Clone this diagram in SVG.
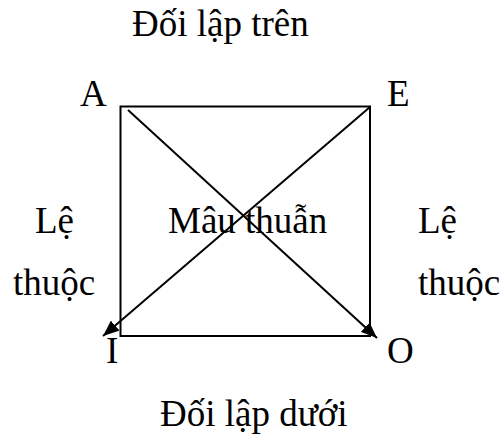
<svg xmlns="http://www.w3.org/2000/svg" width="501" height="436" viewBox="0 0 501 436">
<style>
text{font-family:"Liberation Serif","Times New Roman",serif;font-size:37px;fill:#000}
.ln{stroke:#000;stroke-width:2;fill:none}
</style>
<defs>
<marker id="ah" markerUnits="userSpaceOnUse" markerWidth="17" markerHeight="13" refX="16" refY="6.5" orient="auto">
<path d="M0,0 L16,6.5 L0,13 Z" fill="#000"/>
</marker>
</defs>
<g id="connectors">
<rect class="ln" x="120.5" y="106.5" width="249.5" height="229.5"/>
<line class="ln" x1="128" y1="110" x2="377" y2="338" marker-end="url(#ah)"/>
<line class="ln" x1="370" y1="107" x2="103" y2="336" marker-end="url(#ah)"/>
</g>
<g id="title-top"><text x="132" y="36">Đối lập trên</text></g>
<g id="A"><text x="80" y="106">A</text></g>
<g id="E"><text x="387" y="106">E</text></g>
<g id="I"><text x="106" y="363">I</text></g>
<g id="O"><text x="387" y="363">O</text></g>
<g id="left-label"><text x="35" y="233">Lệ</text><text x="13" y="295">thuộc</text></g>
<g id="right-label"><text x="418" y="233">Lệ</text><text x="418" y="295">thuộc</text></g>
<g id="center-label"><text x="168" y="233">Mâu thuẫn</text></g>
<g id="title-bottom"><text x="160" y="426">Đối lập dưới</text></g>
</svg>
